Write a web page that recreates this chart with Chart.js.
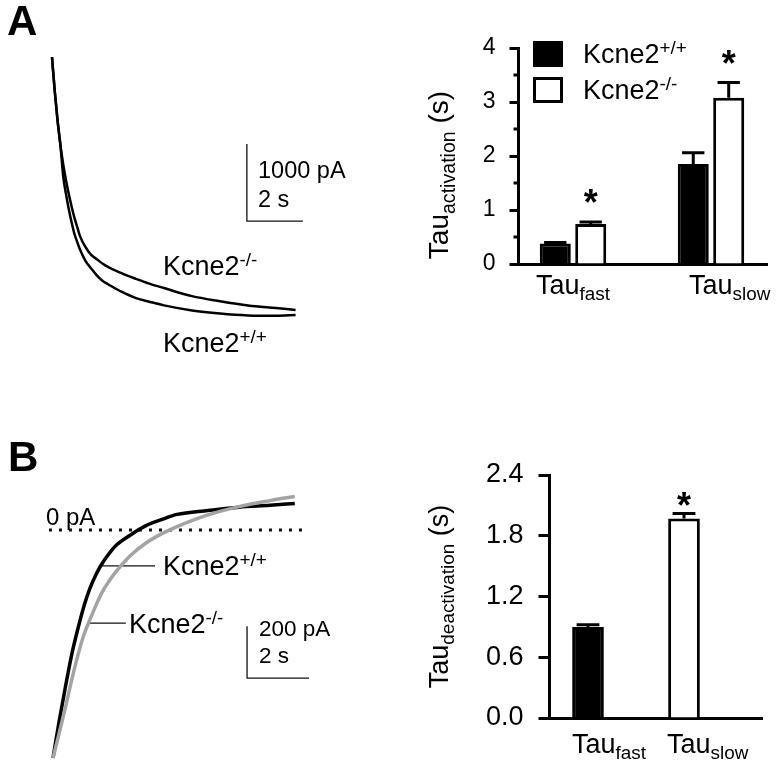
<!DOCTYPE html>
<html>
<head>
<meta charset="utf-8">
<script src="https://cdn.jsdelivr.net/npm/chart.js@4.4.1/dist/chart.umd.min.js"></script>
<style>
  body { margin: 0; background: #fff; }
  #fig { position: relative; width: 780px; height: 767px; overflow: hidden; }
  canvas { position: absolute; }
</style>
</head>
<body>
<div id="fig">
  <canvas id="traceA" width="400" height="380" style="left:0;top:0"></canvas>
  <canvas id="barA" width="380" height="320" style="left:400px;top:0"></canvas>
  <canvas id="traceB" width="400" height="327" style="left:0;top:440px"></canvas>
  <canvas id="barB" width="380" height="327" style="left:400px;top:440px"></canvas>
</div>
<script>
// ---- panel A, activation traces (time in s, current in pA) ----
const timeA = [0, 0.1, 0.2, 0.3, 0.4, 0.5, 0.6, 0.7, 0.8, 0.9, 1.0, 1.2, 1.4, 1.6, 1.8, 2.0, 2.5, 3.0, 3.5, 4.0, 5.0, 6.0, 7.0, 8.0, 8.7];
const koA = [3350, 2900, 2520, 2210, 1960, 1750, 1570, 1410, 1265, 1145, 1025, 880, 780, 725, 670, 625, 540, 470, 405, 350, 245, 180, 125, 90, 65];
const wtA = [3350, 2900, 2520, 2210, 1805, 1570, 1375, 1205, 1055, 950, 850, 700, 605, 515, 445, 400, 300, 220, 170, 125, 60, 20, -5, -10, 0];
const scaleBarA = [6.96, 1220, 2, 1000];   // t0, pA0, 2 s, 1000 pA

// ---- panel A, activation time constants ----
const actCats = ['fast', 'slow'];
const actWT = [0.38, 1.85];
const actWTErr = [0.02, 0.21];
const actKO = [0.74, 3.08];
const actKOErr = [0.04, 0.28];
const actStar = [true, true];

// ---- panel B, deactivation traces ----
const timeB = [0, 0.2, 0.4, 0.6, 0.8, 1.0, 1.2, 1.4, 1.6, 1.8, 2.0, 2.5, 3.0, 3.5, 4.0, 5.0, 6.0, 7.0, 7.8];
const wtB = [-877, -735, -604, -481, -381, -292, -222, -168, -126, -92, -63, -19, 17, 40, 60, 75, 88, 95, 102];
const koB = [-877, -781, -683, -578, -483, -402, -342, -286, -236, -198, -165, -98, -50, -15, 13, 58, 90, 113, 129];
const zeroLineB = [-0.13, 8.13];
const scaleBarB = [6.26, -570, 2, 200];   // t0, pA0, 2 s, 200 pA

// ---- panel B, deactivation time constants ----
const deactCats = ['fast', 'slow'];
const deactVals = [0.90, 1.97];
const deactErr = [0.02, 0.05];
const deactStar = [false, true];

const FONT = "'Liberation Sans', Arial, sans-serif";
Chart.defaults.font.family = FONT;
Chart.defaults.color = '#000';

function parseRich(str) {
  const out = [];
  const re = /([\^_])\{([^}]*)\}|([^\^_]+)/g;
  let m;
  while ((m = re.exec(str))) out.push(m[3] ? { t: m[3] } : { t: m[2], s: m[1] });
  return out;
}

function rich(ctx, x, y, str, size, align, bold) {
  const w = bold ? 'bold ' : '';
  const segs = parseRich(str).map(p => {
    const s = p.s ? size * 0.7 : size;
    ctx.font = w + s + 'px ' + FONT;
    return { t: p.t, s, dy: p.s === '^' ? -size * 0.33 : p.s === '_' ? size * 0.24 : 0, w: ctx.measureText(p.t).width };
  });
  const total = segs.reduce((a, b) => a + b.w, 0);
  let cx = align === 'center' ? x - total / 2 : x;
  ctx.textAlign = 'left';
  ctx.textBaseline = 'alphabetic';
  segs.forEach(g => {
    ctx.font = w + g.s + 'px ' + FONT;
    ctx.fillText(g.t, cx, y + g.dy);
    cx += g.w;
  });
}

function textPlugin(items) {
  return {
    id: 'texts',
    afterDraw(chart) {
      const ctx = chart.ctx;
      ctx.save();
      ctx.fillStyle = '#000';
      items.forEach(it => rich(ctx, it[1], it[2], it[0], it[3], 'left', it[4]));
      ctx.restore();
    }
  };
}

const pts = (xs, ys) => xs.map((t, i) => ({ x: t, y: ys[i] }));
const barPts = b => [{ x: b[0], y: b[1] + b[3] }, { x: b[0], y: b[1] }, { x: b[0] + b[2], y: b[1] }];

const traceLine = (data, color, width) => ({
  data, borderColor: color, borderWidth: width, pointRadius: 0, cubicInterpolationMode: 'monotone'
});
const thinLine = (data, width, dash) => ({
  data, borderColor: '#111', borderWidth: width, pointRadius: 0, tension: 0, borderDash: dash || []
});

const baseOpts = (xr, yr) => ({
  responsive: false, animation: false, events: [],
  plugins: { legend: { display: false }, tooltip: { enabled: false } },
  scales: {
    x: { type: 'linear', display: false, min: xr[0], max: xr[1] },
    y: { type: 'linear', display: false, min: yr[0], max: yr[1] }
  }
});

// Trace A
new Chart(document.getElementById('traceA'), {
  type: 'line',
  data: { datasets: [
    traceLine(pts(timeA, koA), '#000', 2.5),
    traceLine(pts(timeA, wtA), '#000', 2.5),
    thinLine(barPts(scaleBarA), 1.3)
  ] },
  options: baseOpts([-1.857, 12.429], [-844, 4091]),
  plugins: [textPlugin([
    ['A', 7, 35, 42, true],
    ['1000 pA', 258, 178, 23.5],
    ['2 s', 258, 207, 23.5],
    ['Kcne2^{-/-}', 163, 275, 27],
    ['Kcne2^{+/+}', 163, 352, 27]
  ])]
});

// Trace B
new Chart(document.getElementById('traceB'), {
  type: 'line',
  data: { datasets: [
    traceLine(pts(timeB, koB), '#a3a3a3', 3.5),
    traceLine(pts(timeB, wtB), '#000', 3.5),
    thinLine([{ x: zeroLineB[0], y: 0 }, { x: zeroLineB[1], y: 0 }], 3, [3, 7]),
    thinLine([{ x: 1.58, y: -138 }, { x: 3.29, y: -138 }], 1.3),
    thinLine([{ x: 1.16, y: -358 }, { x: 2.35, y: -358 }], 1.3),
    thinLine(barPts(scaleBarB), 1.3)
  ] },
  options: baseOpts([-1.7097, 11.194], [-911.5, 346.2]),
  plugins: [textPlugin([
    ['B', 8, 31, 42, true],
    ['0 pA', 46, 85, 24],
    ['Kcne2^{+/+}', 163, 135, 27],
    ['Kcne2^{-/-}', 129, 193, 27],
    ['200 pA', 259, 196, 22.5],
    ['2 s', 259, 223, 22.5]
  ])]
});

// error bars, asterisks, minor ticks, category labels, axis title, legend
function barDecor(cfg) {
  return {
    id: 'barDecor',
    afterDraw(chart) {
      const ctx = chart.ctx, ys = chart.scales.y, xs = chart.scales.x, area = chart.chartArea;
      ctx.save();
      ctx.strokeStyle = '#000';
      ctx.fillStyle = '#000';
      ctx.lineWidth = 3;
      chart.data.datasets.forEach((ds, d) => {
        chart.getDatasetMeta(d).data.forEach((bar, i) => {
          const capY = ys.getPixelForValue(ds.data[i].y + ds.errors[i]);
          const cw = bar.width * 0.72;
          ctx.beginPath();
          ctx.moveTo(bar.x, bar.y);
          ctx.lineTo(bar.x, capY);
          ctx.moveTo(bar.x - cw / 2, capY);
          ctx.lineTo(bar.x + cw / 2, capY);
          ctx.stroke();
          if (ds.stars[i]) {
            ctx.font = 'bold 36px ' + FONT;
            ctx.textAlign = 'center';
            ctx.textBaseline = 'alphabetic';
            const m = ctx.measureText('*');
            const mid = (m.actualBoundingBoxAscent - m.actualBoundingBoxDescent) / 2;
            ctx.fillText('*', bar.x, capY - cfg.starGap + mid);
          }
        });
      });
      if (cfg.minor) {
        cfg.minor.forEach(v => {
          const py = ys.getPixelForValue(v);
          ctx.beginPath();
          ctx.moveTo(area.left - 5, py);
          ctx.lineTo(area.left, py);
          ctx.stroke();
        });
      }
      cfg.cats.forEach((c, i) => {
        rich(ctx, xs.getPixelForValue(i + 1) + cfg.catDx[i], cfg.catY, 'Tau_{' + c + '}', 27, 'left');
      });
      ctx.translate(cfg.title[1], cfg.title[2]);
      ctx.rotate(-Math.PI / 2);
      rich(ctx, 0, 0, cfg.title[0], cfg.title[3], 'center');
      ctx.restore();
      if (cfg.legend) {
        ctx.save();
        const L = cfg.legend;
        chart.data.datasets.forEach((ds, d) => {
          const y = L.y + d * L.step;
          ctx.fillStyle = ds.backgroundColor;
          ctx.fillRect(L.x, y, L.w, L.h);
          ctx.strokeStyle = '#000';
          ctx.lineWidth = 3;
          ctx.strokeRect(L.x + 1.5, y + 1.5, L.w - 3, L.h - 3);
          ctx.fillStyle = '#000';
          rich(ctx, L.tx, y + L.h - 4, ds.label, 27, 'left');
        });
        ctx.restore();
      }
    }
  };
}

// Bar chart A
new Chart(document.getElementById('barA'), {
  type: 'bar',
  data: { datasets: [
    { label: 'Kcne2^{+/+}', data: pts([1, 2], actWT), errors: actWTErr, stars: [false, false],
      backgroundColor: '#000', borderColor: '#000', borderWidth: 3 },
    { label: 'Kcne2^{-/-}', data: pts([1, 2], actKO), errors: actKOErr, stars: actStar,
      backgroundColor: '#fff', borderColor: '#000', borderWidth: 3 }
  ] },
  options: {
    responsive: false, animation: false, events: [],
    categoryPercentage: 0.514, barPercentage: 0.875,
    layout: { padding: { left: 0, right: 13, top: 48, bottom: 0 } },
    plugins: { legend: { display: false }, tooltip: { enabled: false } },
    scales: {
      x: {
        type: 'linear', min: 0.605, max: 2.406, offset: false,
        afterBuildTicks: s => { s.ticks = actCats.map((c, i) => ({ value: i + 1 })); },
        afterFit: s => { s.height = 56; },
        ticks: { display: false }, grid: { display: false, offset: false },
        border: { color: '#000', width: 3 }
      },
      y: {
        min: 0, max: 4,
        afterFit: s => { s.width = 118.5; },
        ticks: { stepSize: 1, color: '#000', font: { size: 23 }, padding: 14 },
        grid: { drawOnChartArea: false, tickLength: 9, tickWidth: 3, tickColor: '#000' },
        border: { color: '#000', width: 3 }
      }
    }
  },
  plugins: [barDecor({
    starGap: 26, minor: [0.5, 1.5, 2.5, 3.5], cats: actCats, catDx: [-37, -22], catY: 294,
    title: ['Tau_{activation} (s)', 48, 175, 28],
    legend: { x: 133, y: 41, w: 30, h: 26, step: 36, tx: 183 }
  })]
});

// Bar chart B
new Chart(document.getElementById('barB'), {
  type: 'bar',
  data: { datasets: [
    { label: 'Tau', data: pts([1, 2], deactVals), errors: deactErr, stars: deactStar,
      backgroundColor: ['#000', '#fff'], borderColor: '#000', borderWidth: 3 }
  ] },
  options: {
    responsive: false, animation: false, events: [],
    categoryPercentage: 1, barPercentage: 0.33,
    layout: { padding: { left: 0, right: 18, top: 35, bottom: 0 } },
    plugins: { legend: { display: false }, tooltip: { enabled: false } },
    scales: {
      x: {
        type: 'linear', min: 0.599, max: 2.8125, offset: false,
        afterBuildTicks: s => { s.ticks = deactCats.map((c, i) => ({ value: i + 1 })); },
        afterFit: s => { s.height = 49; },
        ticks: { display: false }, grid: { display: false, offset: false },
        border: { color: '#000', width: 3 }
      },
      y: {
        min: 0, max: 2.4,
        afterFit: s => { s.width = 149.5; },
        ticks: { stepSize: 0.6, color: '#000', font: { size: 27 }, padding: 15, callback: v => v.toFixed(1) },
        grid: { drawOnChartArea: false, tickLength: 11, tickWidth: 3, tickColor: '#000' },
        border: { color: '#000', width: 3 }
      }
    }
  },
  plugins: [barDecor({
    starGap: 14, cats: deactCats, catDx: [-16, -17], catY: 313,
    title: ['Tau_{deactivation} (s)', 48, 156.5, 27]
  })]
});
</script>
</body>
</html>
